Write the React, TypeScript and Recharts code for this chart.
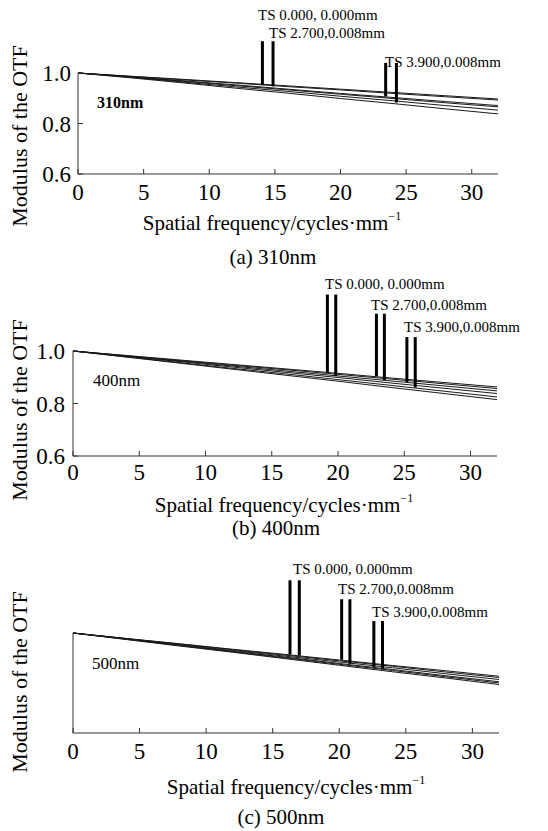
import React from 'react';
import { LineChart, Line, XAxis, YAxis, ReferenceLine } from 'recharts';

const FONT = '"Liberation Serif", "Times New Roman", serif';

// spatial frequency samples (cycles/mm)
const freq = [0, 4, 8, 12, 16, 20, 24, 28, 32];
const xTicks = [0, 5, 10, 15, 20, 25, 30];
const yTicks = [0.6, 0.8, 1.0];

// (a) 310nm MTF curves
const a1 = [1, 0.987, 0.975, 0.962, 0.949, 0.936, 0.923, 0.910, 0.897];
const a2 = [1, 0.987, 0.973, 0.960, 0.946, 0.933, 0.919, 0.906, 0.893];
const a3 = [1, 0.985, 0.969, 0.953, 0.936, 0.919, 0.903, 0.887, 0.871];
const a4 = [1, 0.984, 0.967, 0.950, 0.933, 0.916, 0.899, 0.882, 0.866];
const a5 = [1, 0.983, 0.964, 0.945, 0.927, 0.908, 0.890, 0.871, 0.853];
const a6 = [1, 0.981, 0.961, 0.940, 0.920, 0.899, 0.879, 0.858, 0.838];

// (b) 400nm
const b1 = [1, 0.983, 0.966, 0.949, 0.932, 0.915, 0.897, 0.880, 0.863];
const b2 = [1, 0.982, 0.964, 0.946, 0.929, 0.911, 0.893, 0.875, 0.857];
const b3 = [1, 0.981, 0.962, 0.943, 0.924, 0.905, 0.886, 0.867, 0.848];
const b4 = [1, 0.980, 0.960, 0.939, 0.919, 0.899, 0.878, 0.858, 0.838];
const b5 = [1, 0.978, 0.956, 0.934, 0.913, 0.891, 0.869, 0.847, 0.825];
const b6 = [1, 0.977, 0.954, 0.931, 0.908, 0.885, 0.861, 0.838, 0.815];

// (c) 500nm
const c1 = [1, 0.978, 0.957, 0.935, 0.914, 0.892, 0.870, 0.849, 0.827];
const c2 = [1, 0.978, 0.956, 0.933, 0.911, 0.889, 0.867, 0.844, 0.822];
const c3 = [1, 0.977, 0.953, 0.930, 0.907, 0.884, 0.861, 0.837, 0.814];
const c4 = [1, 0.976, 0.951, 0.927, 0.903, 0.878, 0.854, 0.829, 0.805];
const c5 = [1, 0.975, 0.950, 0.925, 0.900, 0.875, 0.850, 0.825, 0.800];
const c6 = [1, 0.974, 0.948, 0.923, 0.897, 0.871, 0.845, 0.820, 0.794];

// legend bars (frequency, top, bottom)
const barFreqA = [14.05, 14.86, 23.44, 24.26];
const barTopA = [1.126, 1.126, 1.04, 1.04];
const barBotA = [0.953, 0.947, 0.907, 0.883];

const barFreqB = [19.2, 19.83, 22.9, 23.5, 25.2, 25.83];
const barTopB = [1.215, 1.215, 1.142, 1.142, 1.053, 1.053];
const barBotB = [0.92, 0.904, 0.904, 0.889, 0.882, 0.861];

const barFreqC = [16.3, 17.0, 20.18, 20.8, 22.6, 23.25];
const barTopC = [1.211, 1.211, 1.135, 1.135, 1.048, 1.048];
const barBotC = [0.914, 0.91, 0.893, 0.877, 0.864, 0.858];

const fieldLabels = ['TS 0.000, 0.000mm', 'TS 2.700,0.008mm', 'TS 3.900,0.008mm'];

const toRows = (series: number[][]) =>
  freq.map((f, i) => {
    const row: any = { f };
    series.forEach((s, k) => { row['s' + k] = s[i]; });
    return row;
  });

interface PanelProps {
  top: number;
  height: number;
  margin: { top: number; right: number; bottom: number; left: number };
  series: number[][];
  barFreq: number[];
  barTop: number[];
  barBot: number[];
  showYLabels: boolean;
  xMargin: number;
  yMargin: number;
}

const Panel = ({ top, height, margin, series, barFreq, barTop, barBot, showYLabels, xMargin, yMargin }: PanelProps) => {
  const data = toRows(series);
  const tickStyle = { fill: '#000', fontSize: 23, fontFamily: FONT };
  return (
    <div style={{ position: 'absolute', left: 0, top, width: 548, height }}>
      <LineChart width={548} height={height} data={data} margin={margin}>
        <XAxis dataKey="f" type="number" domain={[0, 32]} ticks={xTicks} height={30}
          tickSize={-5} tickMargin={xMargin} stroke="#333" tick={tickStyle} />
        <XAxis xAxisId="top" orientation="top" dataKey="f" type="number" domain={[0, 32]} ticks={xTicks}
          height={0} tickSize={-4} tick={false} stroke="#333" />
        <YAxis type="number" domain={[0.6, 1.0]} ticks={yTicks} width={40} tickSize={-5} tickMargin={yMargin}
          stroke="#333" tick={showYLabels ? tickStyle : false} tickFormatter={(v: number) => v.toFixed(1)} />
        <YAxis yAxisId="right" orientation="right" type="number" domain={[0.6, 1.0]} ticks={yTicks}
          width={0} tickSize={-4} tick={false} stroke="#333" />
        {series.map((_, k) => (
          <Line key={k} type="linear" dataKey={'s' + k} stroke="#1a1a1a" strokeWidth={1}
            dot={false} isAnimationActive={false} />
        ))}
        {barFreq.map((x, i) => (
          <ReferenceLine key={'b' + i} segment={[{ x, y: barTop[i] }, { x, y: barBot[i] }]}
            stroke="#000" strokeWidth={3} ifOverflow="visible" />
        ))}
      </LineChart>
    </div>
  );
};

const T = ({ x, y, size, children, bold, center }: any) => (
  <div style={{
    position: 'absolute', left: x, top: y, fontSize: size, fontFamily: FONT, lineHeight: 1,
    whiteSpace: 'nowrap', fontWeight: bold ? 'bold' : 'normal', color: '#000',
    transform: center ? 'translate(-50%, -50%)' : 'translateY(-50%)',
  }}>{children}</div>
);

const YTitle = ({ y }: { y: number }) => (
  <div style={{
    position: 'absolute', left: 20, top: y, fontSize: 22, fontFamily: FONT, lineHeight: 1,
    whiteSpace: 'nowrap', transform: 'translate(-50%, -50%) rotate(-90deg)',
  }}>Modulus of the OTF</div>
);

const XTitle = ({ x, y }: { x: number; y: number }) => (
  <T x={x} y={y} size={21} center>
    Spatial frequency/cycles·mm<span style={{ fontSize: 12, verticalAlign: 'top', position: 'relative', top: -3 }}>−1</span>
  </T>
);

export default function App() {
  return (
    <div style={{ position: 'absolute', left: 0, top: 0, width: 548, height: 831, background: '#fff', overflow: 'hidden' }}>
      <Panel top={0} height={270} margin={{ top: 73, right: 50, bottom: 66, left: 38 }}
        series={[a1, a2, a3, a4, a5, a6]} barFreq={barFreqA} barTop={barTopA} barBot={barBotA}
        showYLabels xMargin={15} yMargin={12} />
      <Panel top={270} height={270} margin={{ top: 81, right: 51, bottom: 54, left: 33 }}
        series={[b1, b2, b3, b4, b5, b6]} barFreq={barFreqB} barTop={barTopB} barBot={barBotB}
        showYLabels xMargin={13} yMargin={13} />
      <Panel top={550} height={281} margin={{ top: 83, right: 49, bottom: 68, left: 33 }}
        series={[c1, c2, c3, c4, c5, c6]} barFreq={barFreqC} barTop={barTopC} barBot={barBotC}
        showYLabels={false} xMargin={15} yMargin={12} />

      {/* (a) */}
      <T x={258} y={15} size={15}>{fieldLabels[0]}</T>
      <T x={269} y={33} size={15}>{fieldLabels[1]}</T>
      <T x={385} y={62} size={15}>{fieldLabels[2]}</T>
      <T x={97} y={103} size={16} bold>310nm</T>
      <YTitle y={136} />
      <XTitle x={272} y={223} />
      <T x={273} y={257} size={21} center>(a) 310nm</T>

      {/* (b) */}
      <T x={325} y={284} size={15}>{fieldLabels[0]}</T>
      <T x={371} y={305} size={15}>{fieldLabels[1]}</T>
      <T x={404} y={327} size={15}>{fieldLabels[2]}</T>
      <T x={93} y={380} size={17}>400nm</T>
      <YTitle y={410} />
      <XTitle x={284} y={505} />
      <T x={276} y={528} size={21} center>(b) 400nm</T>

      {/* (c) */}
      <T x={293} y={569} size={15}>{fieldLabels[0]}</T>
      <T x={338} y={589} size={15}>{fieldLabels[1]}</T>
      <T x={372} y={612} size={15}>{fieldLabels[2]}</T>
      <T x={92} y={663} size={17}>500nm</T>
      <YTitle y={682} />
      <XTitle x={296} y={787} />
      <T x={281} y={817} size={21} center>(c) 500nm</T>
    </div>
  );
}
